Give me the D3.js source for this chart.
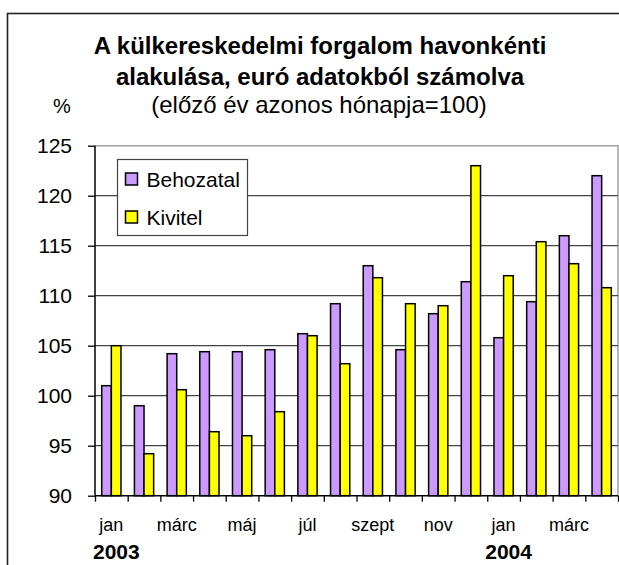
<!DOCTYPE html>
<html lang="hu">
<head>
<meta charset="UTF-8">
<title>Külkereskedelmi forgalom</title>
<script src="https://cdnjs.cloudflare.com/ajax/libs/d3/7.8.5/d3.min.js"></script>
<style>
    body { margin: 0; background: #fff; }
    svg { display: block; font-family: "Liberation Sans", Arial, sans-serif; }
    .axis path { display: none; }
</style>
</head>
<body>
<svg width="619" height="565"></svg>
<script>
    // havi adatok, 2003 jan - 2004 ápr
    var months = ["jan", "febr", "márc", "ápr", "máj", "jún", "júl", "aug", "szept", "okt", "nov", "dec",
                  "jan", "febr", "márc", "ápr"];
    var years = [{label: "2003", index: 0}, {label: "2004", index: 12}];
    var behozatal = [101.0, 99.0, 104.2, 104.4, 104.4, 104.6, 106.2, 109.2, 113.0, 104.6, 108.2, 111.4,
                     105.8, 109.4, 116.0, 122.0];
    var kivitel = [105.0, 94.2, 100.6, 96.4, 96.0, 98.4, 106.0, 103.2, 111.8, 109.2, 109.0, 123.0,
                   112.0, 115.4, 113.2, 110.8];
    var yTicks = [90, 95, 100, 105, 110, 115, 120, 125];
    var series = [
        {name: "Behozatal", values: behozatal, color: "#cc99ff"},
        {name: "Kivitel", values: kivitel, color: "#ffff00"}
    ];

    var svg = d3.select("svg"),
        plot = {left: 95, right: 618, top: 145.7, bottom: 495.7};

    // keret
    svg.append("rect")
        .attr("x", 7.5).attr("y", 13.5)
        .attr("width", 640).attr("height", 600)
        .attr("fill", "none")
        .attr("stroke", "#222")
        .attr("stroke-width", 1.6);

    var x = d3.scaleBand()
        .domain(d3.range(months.length))
        .range([plot.left, plot.right]);

    var xEdge = d3.scaleLinear()
        .domain([0, months.length])
        .range([plot.left, plot.right]);

    var y = d3.scaleLinear()
        .domain([90, 125])
        .range([plot.bottom, plot.top]);

    var inner = d3.scaleBand()
        .domain(series.map(function(d) { return d.name; }))
        .range([0, x.bandwidth() / 1.7]);
    var groupOffset = (x.bandwidth() - x.bandwidth() / 1.7) / 2;

    // plot terület szürke keret (felső, jobb)
    svg.append("path")
        .attr("d", "M" + plot.left + "," + plot.top + "H" + plot.right + "V" + plot.bottom)
        .attr("fill", "none")
        .attr("stroke", "#a0a0a0")
        .attr("stroke-width", 1.5);

    // rácsvonalak
    svg.append("g")
        .selectAll("line")
        .data(yTicks.slice(1, -1))
        .join("line")
        .attr("x1", plot.left).attr("x2", plot.right)
        .attr("y1", function(d) { return y(d); })
        .attr("y2", function(d) { return y(d); })
        .attr("stroke", "#444")
        .attr("stroke-width", 1.3);

    // oszlopok
    series.forEach(function(s) {
        svg.append("g")
            .selectAll("rect")
            .data(s.values)
            .join("rect")
            .attr("x", function(d, i) { return x(i) + groupOffset + inner(s.name); })
            .attr("y", function(d) { return y(d); })
            .attr("width", inner.bandwidth())
            .attr("height", function(d) { return y(90) - y(d); })
            .attr("fill", s.color)
            .attr("stroke", "#000")
            .attr("stroke-width", 1.5);
    });

    // y tengely
    var yAxis = svg.append("g")
        .attr("class", "axis")
        .attr("transform", "translate(" + plot.left + ",0)")
        .call(d3.axisLeft(y).tickValues(yTicks).tickSize(7).tickPadding(16));
    yAxis.selectAll("line").attr("stroke", "#000").attr("stroke-width", 1.3);
    yAxis.selectAll("text")
        .attr("fill", "#000")
        .style("font-size", "21px");
    svg.append("line")
        .attr("x1", plot.left).attr("x2", plot.left)
        .attr("y1", plot.top).attr("y2", plot.bottom)
        .attr("stroke", "#000").attr("stroke-width", 1.5);

    // x tengely
    var xAxis = svg.append("g")
        .attr("class", "axis")
        .attr("transform", "translate(0," + plot.bottom + ")")
        .call(d3.axisBottom(xEdge).ticks(months.length).tickSize(6).tickFormat(""));
    xAxis.selectAll("line").attr("stroke", "#000").attr("stroke-width", 1.3);
    svg.append("line")
        .attr("x1", plot.left).attr("x2", plot.right)
        .attr("y1", plot.bottom).attr("y2", plot.bottom)
        .attr("stroke", "#000").attr("stroke-width", 1.5);

    // hónapnevek, minden második
    svg.append("g")
        .selectAll("text")
        .data(months.map(function(m, i) { return {m: m, i: i}; })
            .filter(function(d) { return d.i % 2 === 0; }))
        .join("text")
        .attr("x", function(d) { return x(d.i) + x.bandwidth() / 2; })
        .attr("y", 531)
        .attr("text-anchor", "middle")
        .style("font-size", "18px")
        .text(function(d) { return d.m; });

    svg.append("g")
        .selectAll("text")
        .data(years)
        .join("text")
        .attr("x", function(d) { return x(d.index) - 2; })
        .attr("y", 559)
        .style("font-size", "21px")
        .style("font-weight", "bold")
        .text(function(d) { return d.label; });

    // cím
    var title = svg.append("text")
        .attr("text-anchor", "middle")
        .style("font-size", "24px")
        .style("font-weight", "bold");
    title.append("tspan").attr("x", 320).attr("y", 54).text("A külkereskedelmi forgalom havonkénti");
    title.append("tspan").attr("x", 320).attr("y", 85).text("alakulása, euró adatokból számolva");
    svg.append("text")
        .attr("x", 319).attr("y", 113)
        .attr("text-anchor", "middle")
        .style("font-size", "24px")
        .text("(előző év azonos hónapja=100)");
    svg.append("text")
        .attr("x", 62).attr("y", 113)
        .attr("text-anchor", "middle")
        .style("font-size", "20px")
        .text("%");

    // jelmagyarázat
    var legend = svg.append("g").attr("transform", "translate(117.5,159.5)");
    legend.append("rect")
        .attr("width", 130).attr("height", 76)
        .attr("fill", "#fff")
        .attr("stroke", "#444")
        .attr("stroke-width", 1.2);
    var item = legend.selectAll("g")
        .data(series)
        .join("g")
        .attr("transform", function(d, i) { return "translate(8," + (13.5 + i * 38) + ")"; });
    item.append("rect")
        .attr("width", 12).attr("height", 12)
        .attr("fill", function(d) { return d.color; })
        .attr("stroke", "#000")
        .attr("stroke-width", 1.5);
    item.append("text")
        .attr("x", 21).attr("y", 13.5)
        .style("font-size", "21px")
        .text(function(d) { return d.name; });
</script>
</body>
</html>
